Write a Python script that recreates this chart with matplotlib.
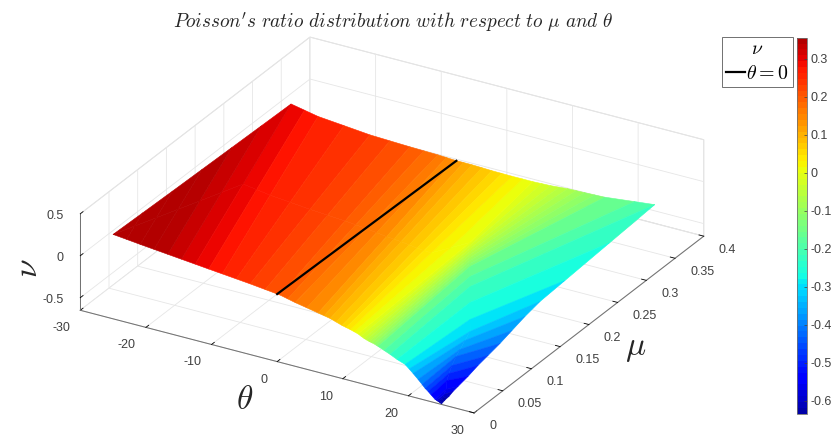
#!/usr/bin/env python3
# -*- coding: utf-8 -*-
import numpy as np
import matplotlib
matplotlib.use("Agg")
import matplotlib.pyplot as plt
from matplotlib.colors import ListedColormap, Normalize
from matplotlib.cm import ScalarMappable

plt.rcParams['font.family'] = ['Liberation Sans', 'DejaVu Sans']
plt.rcParams['mathtext.fontset'] = 'cm'

# --- values ---
# the surface is stored as lines of equal nu (the colour bands): each one runs
# from a point on the lower edge, over a middle point, to the upper/right edge
nu_levels = [.356, .3405, .325, .3095, .294, .2785, .263, .2475, .232, .2165, .201, .1855, .170, .1545, .139, .1235, .108,
             .0925, .077, .0615, .046, .0305, .015, 0, -.015, -.0305, -.046, -.0615, -.077, -.0925, -.108, -.1235, -.139,
             -.170, -.201, -.232, -.263, -.294, -.325, -.356, -.387, -.418, -.449, -.480, -.511, -.542, -.573, -.604, -.635]
theta_low = [-25, -22.91, -20.82, -18.71, -16.61, -14.51, -12.41, -10.34, -8.28, -6.14, -4.0, -1.66, .68, 1.9, 3.11, 5.0, 6.88,
             7.78, 8.68, 9.68, 10.69, 11.25, 11.81, 12.41, 13.01, 13.49, 13.97, 14.28, 14.6, 14.87, 15.15, 15.37, 15.59,
             16.48, 17.37, 18.51, 19.78, 20.52, 21.25, 22.32, 23.13, 23.68, 24.08, 24.55, 25.28, 25.22, 25.15, 25.08, 25.15]
mu_low = [0, -.0002, -.0005, -.0006, -.0007, -.0008, -.0009, -.001, -.001, -.0011, -.0012, -.0019, -.0026, -.0034, -.0042, -.0057, -.0073,
          -.0071, -.0069, -.008, -.0091, -.0085, -.0079, -.0078, -.0077, -.008, -.0083, -.0075, -.0067, -.0055, -.0043, -.0033, -.0024,
          -.0021, -.0018, -.0028, -.0033, -.0047, -.0062, -.0097, -.012, -.013, -.0124, -.0126, -.014, -.0106, -.0073, -.0039, -.0012]
theta_mid = [-25, -23.97, -22.93, -21.9, -20.86, -19.83, -18.81, -16.65, -14.48, -11.35, -8.21, -5.55, -2.9, -1.3, .31, 1.84, 3.37,
             4.38, 5.38, 6.58, 7.77, 8.73, 9.68, 10.95, 12.22, 12.48, 12.73, 12.98, 13.23, 13.48, 13.73, 13.98, 14.23,
             15.32, 16.42, 18.39, 20.52, 21.91, 22.28, 22.66, 22.86, 23.35, 23.8, 24.23, 25.06, 25.19, 25.2, 25.15, 25.15]
mu_mid = [0, .0258, .0517, .0777, .1036, .1296, .1557, .1545, .1532, .1522, .1512, .1513, .1514, .1518, .1522, .1521, .152,
          .1532, .1543, .1546, .1548, .156, .1573, .1767, .1961, .1932, .1903, .1875, .1846, .1818, .1789, .176, .1731,
          .1607, .1482, .1256, .1013, .0855, .0725, .0595, .0502, .0378, .0272, .0189, .0077, .0028, .0009, -.0003, -.0012]
theta_high = [-25, -25.01, -25.03, -25.07, -25.11, -25.15, -25.2, -22.94, -20.67, -16.55, -12.42, -9.45, -6.48, -4.49, -2.5, -1.32, -.14,
              .97, 2.07, 3.46, 4.84, 6.2, 7.55, 8.96, 10.37, 11.5, 12.63, 13.63, 14.62, 15.69, 16.75, 18.03, 19.31,
              23.0, 25.33, 25.45, 25.56, 25.44, 25.56, 25.77, 25.94, 25.97, 25.92, 26.02, 25.98, 25.77, 25.66, 25.35, 25.15]
mu_high = [0, .0519, .1038, .1559, .2079, .26, .3122, .3098, .3074, .3055, .3035, .3044, .3053, .3069, .3085, .3099, .3112,
           .3134, .3155, .3171, .3186, .3206, .3225, .3247, .3268, .3296, .3323, .3357, .3391, .3417, .3443, .3471, .3499,
           .36, .3681, .2885, .209, .167, .1394, .1144, .0916, .0704, .0535, .035, .0181, .0118, .006, .0028, -.0012]

# black line at theta = 0
line_theta = [0, 0]
line_mu = [0, .312]
line_nu = [.155, .100]

theta_ticks = [-30, -20, -10, 0, 10, 20, 30]
mu_ticks = [0, 0.05, 0.1, 0.15, 0.2, 0.25, 0.3, 0.35, 0.4]
mu_tick_labels = ['0', '0.05', '0.1', '0.15', '0.2', '0.25', '0.3', '0.35', '0.4']
nu_ticks = [-0.5, 0, 0.5]
nu_tick_labels = ['-0.5', '0', '0.5']
cbar_ticks = [-0.6, -0.5, -0.4, -0.3, -0.2, -0.1, 0, 0.1, 0.2, 0.3]
cbar_tick_labels = ['-0.6', '-0.5', '-0.4', '-0.3', '-0.2', '-0.1', '0', '0.1', '0.2', '0.3']

TEXT_COLOR = '#404040'
W, H = 837, 438

T = np.array([theta_low, theta_mid, theta_high])
M = np.array([mu_low, mu_mid, mu_high])
Z = np.array([nu_levels, nu_levels, nu_levels])

# jet with 64 levels; the picture never reaches the darkest ends of jet
jet = plt.get_cmap('jet')
surf_cmap = ListedColormap(jet(np.clip(np.linspace(0, 1, 64), 0.04, 0.955)))
bar_cmap = ListedColormap(jet(np.linspace(0.038, 0.955, 64)))
norm = Normalize(-0.634, 0.356)

fig = plt.figure(figsize=(W / 100, H / 100), dpi=100)

# the square 3D axes is larger than the figure so the box gets the right size
side = 700
cx, cy = 392, 225
ax = fig.add_axes([(cx - 0.5135 * side) / W, (H - cy - 0.5135 * side) / H, side / W, side / H],
                  projection='3d', proj_type='ortho', computed_zorder=False)
ax.view_init(elev=26.6, azim=-59.8)
ax.set_box_aspect((456, 457, 108), zoom=0.907)
ax.patch.set_alpha(0)

surf = ax.plot_surface(T, M, Z, cmap=surf_cmap, norm=norm, rstride=1, cstride=1,
                       linewidth=0.4, antialiased=True, shade=False, zorder=1)
surf.set_edgecolor('face')

line, = ax.plot(line_theta, line_mu, line_nu, color='black', lw=1.6, zorder=2, label=r'$\theta = 0$')

ax.set_xlim(-30, 30)
ax.set_ylim(0, 0.4)
ax.set_zlim(-0.65, 0.5)
ax.set_xticks(theta_ticks)
ax.set_xticklabels([str(v) for v in theta_ticks], fontsize=9, color=TEXT_COLOR, ha='right')
ax.set_yticks(mu_ticks)
ax.set_yticklabels(mu_tick_labels, fontsize=9, color=TEXT_COLOR, ha='left')
ax.set_zticks(nu_ticks)
ax.set_zticklabels(nu_tick_labels, fontsize=9, color=TEXT_COLOR, ha='right', va='center')
ax.zaxis.set_ticks_position('lower')
ax.zaxis.set_label_position('lower')
ax.tick_params(axis='y', pad=2)
ax.tick_params(axis='z', pad=-1)

for axis in (ax.xaxis, ax.yaxis, ax.zaxis):
    axis.set_pane_color((1, 1, 1, 1))
    axis.pane.set_edgecolor('#dcdcdc')
    axis.pane.set_linewidth(0.7)
    axis.line.set_color('#707070')
    axis.line.set_linewidth(0.7)
    axis._axinfo['grid'].update(color='#e6e6e6', linewidth=0.6)
    axis._axinfo['tick'].update(inward_factor=0.0, outward_factor=0.15, linewidth={True: 0.6, False: 0.5},
                                color='#707070')
    axis.set_rotate_label(False)

ax.set_xlabel(r'$\theta$', fontsize=24, rotation=0, labelpad=16, color='#262626')
ax.set_ylabel(r'$\mu$', fontsize=24, rotation=0, labelpad=10, color='#262626')
ax.set_zlabel(r'$\nu$', fontsize=24, rotation=90, labelpad=1, color='#262626')

fig.suptitle(r"$Poisson's\ ratio\ distribution\ with\ respect\ to\ \mu\ and\ \theta$",
             x=393.5 / W, y=1 - 22 / H, va='center', fontsize=13.86, color='#262626')

leg = fig.legend(handles=[line], title=r'$\nu$', loc='upper left',
                 bbox_to_anchor=(722.3 / W, 1 - 37.3 / H), fontsize=14.4, title_fontsize=14,
                 fancybox=False, framealpha=1, edgecolor='#707070', borderpad=0.2, borderaxespad=0,
                 handlelength=0.92, handletextpad=0.05, labelspacing=0.1)
leg._legend_box.sep = 4
leg.get_frame().set_linewidth(0.7)

cax = fig.add_axes([796.7 / W, 1 - 413.7 / H, 10 / W, 376 / H])
cb = fig.colorbar(ScalarMappable(norm=norm, cmap=bar_cmap), cax=cax)
cb.set_ticks(cbar_ticks)
cb.set_ticklabels(cbar_tick_labels)
cb.ax.tick_params(direction='in', length=2, width=0.5, color='#404040', labelsize=9,
                  labelcolor=TEXT_COLOR, pad=3)
cb.outline.set_edgecolor('#707070')
cb.outline.set_linewidth(0.6)

fig.savefig('out.png', dpi=100)
